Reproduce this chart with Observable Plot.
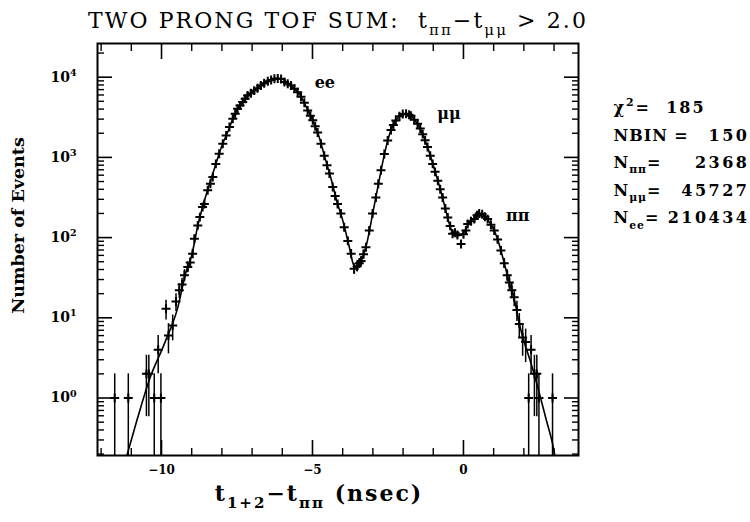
<!DOCTYPE html>
<html><head><meta charset="utf-8">
<script src="https://cdn.jsdelivr.net/npm/d3@7"></script>
<script src="https://cdn.jsdelivr.net/npm/@observablehq/plot@0.6"></script>
<style>body{margin:0;background:#fff}</style>
</head><body><div id="chart"></div>
<script>
// ---- data ----
const binX = [-11.55,-11.1,-10.5,-10.42,-10.24,-10.11,-10.02,-9.85,-9.77,-9.63,-9.52,-9.41,-9.32,-9.24,-9.13,-9.05,-8.97,-8.91,-8.80,-8.73,-8.64,-8.58,-8.47,-8.38,-8.30,-8.20,-8.09,-7.97,-7.86,-7.75,-7.64,-7.56,-7.48,-7.40,-7.31,-7.23,-7.15,-7.04,-6.93,-6.82,-6.71,-6.60,-6.48,-6.37,-6.26,-6.15,-6.04,-5.93,-5.82,-5.71,-5.60,-5.49,-5.38,-5.27,-5.16,-5.07,-4.99,-4.91,-4.83,-4.72,-4.61,-4.52,-4.44,-4.33,-4.25,-4.17,-4.06,-3.95,-3.83,-3.72,-3.62,-3.52,-3.45,-3.39,-3.31,-3.23,-3.12,-3.01,-2.90,-2.82,-2.73,-2.62,-2.51,-2.40,-2.32,-2.24,-2.12,-2.01,-1.90,-1.80,-1.74,-1.63,-1.52,-1.43,-1.35,-1.27,-1.19,-1.10,-1.02,-0.94,-0.85,-0.77,-0.69,-0.60,-0.52,-0.44,-0.36,-0.28,-0.20,-0.08,0.00,0.08,0.14,0.25,0.36,0.45,0.52,0.62,0.71,0.80,0.91,1.02,1.13,1.24,1.35,1.45,1.52,1.60,1.68,1.77,1.85,1.96,2.06,2.16,2.24,2.35,2.43,2.50,2.95];
const counts = [1,1,2,2,1,4,1,13,6,8,16,22,26,34,43,49,63,97,142,180,240,263,389,470,568,830,1110,1480,1880,2390,3030,3500,4050,4450,4890,5400,5900,6300,6800,7300,7900,8400,8900,9200,9550,9600,9500,8700,8300,7900,7200,6500,5700,4800,3850,3300,2900,2450,2040,1480,1050,800,630,427,330,263,200,135,91,63,41,44,48,51,62,76,123,200,316,468,692,1100,1620,2190,2540,2880,3250,3470,3500,3400,3310,2950,2630,2290,1950,1640,1350,1050,830,660,513,400,316,230,178,140,112,115,108,83,110,123,148,160,170,190,200,195,182,170,145,123,95,69,48,34,27.5,22,18,12.5,8.4,5.7,5,1,4,2,2,1,1];

const fitX = [-11.15,-10.8,-10.4,-9.9,-9.46,-9.2,-9.0,-8.8,-8.6,-8.4,-8.2,-8.0,-7.8,-7.6,-7.4,-7.2,-7.0,-6.8,-6.6,-6.4,-6.2,-6.0,-5.8,-5.6,-5.4,-5.2,-5.0,-4.8,-4.6,-4.4,-4.2,-4.0,-3.8,-3.65,-3.55,-3.4,-3.2,-3.0,-2.8,-2.6,-2.4,-2.2,-2.0,-1.8,-1.6,-1.4,-1.2,-1.0,-0.8,-0.6,-0.4,-0.2,0.0,0.2,0.4,0.55,0.7,0.9,1.1,1.3,1.5,1.7,1.85,2.0,2.24,2.5,2.75,2.95,3.02];
const fitY = [0.19,0.55,1.7,4.8,13.5,36,60,140,270,480,830,1400,2100,3300,4450,5500,6500,7500,8400,9200,9600,9500,8300,7200,5900,4200,2950,1900,1030,570,290,165,82,47,42,50,85,205,500,1170,2190,3000,3470,3400,2880,2150,1380,800,445,230,125,105,115,155,180,198,184,148,103,57,29,16,8.4,5.2,2.7,1.2,0.52,0.27,0.2];

const xMajor = [-10, -5, 0];
const xMinor = [-12,-11,-9,-8,-7,-6,-4,-3,-2,-1,1,2,3];
const yMajor = [1, 10, 100, 1000, 10000];
const yMinor = [0.2,0.3,0.4,0.5,0.6,0.7,0.8,0.9,2,3,4,5,6,7,8,9,20,30,40,50,60,70,80,90,200,300,400,500,600,700,800,900,2000,3000,4000,5000,6000,7000,8000,9000,20000];

const title = "TWO PRONG TOF SUM:  t_{ππ}−t_{μμ} > 2.0";
const xTitle = "t_{1+2}−t_{ππ} (nsec)";
const yTitle = "Number of Events";
const chiLine = "χ^{2}=  185";
const statLabels = ["NBIN =", "N_{ππ}=", "N_{μμ}=", "N_{ee}="];
const statValues = ["150", "2368", "45727", "210434"];
const peakText = ["ee", "μμ", "ππ"];
const peakX = [-4.59, -0.48, 1.80];
const peakY = [7400, 3050, 163];

// ---- tables ----
const pts = binX.map((x, i) => {
  const c = counts[i], e = Math.sqrt(c);
  return {x, y: c, lo: Math.max(c - e, 0.05), hi: c + e};
});
const fit = fitX.map((x, i) => ({x, y: fitY[i]}));
const peaks = peakText.map((t, i) => ({t, x: peakX[i], y: peakY[i]}));

const marks = [
  Plot.frame({strokeWidth: 2}),
  // inward ticks on all four sides
  Plot.axisX(xMajor, {anchor: "bottom", tickSize: -15, fill: "none", label: null, strokeWidth: 1.6}),
  Plot.axisX(xMinor, {anchor: "bottom", tickSize: -7, fill: "none", label: null, strokeWidth: 1.4}),
  Plot.axisX(xMajor, {anchor: "top", tickSize: -15, fill: "none", label: null, strokeWidth: 1.6}),
  Plot.axisX(xMinor, {anchor: "top", tickSize: -7, fill: "none", label: null, strokeWidth: 1.4}),
  Plot.axisY(yMajor, {anchor: "left", tickSize: -15, fill: "none", label: null, strokeWidth: 1.6}),
  Plot.axisY(yMinor, {anchor: "left", tickSize: -7, fill: "none", label: null, strokeWidth: 1.4}),
  Plot.axisY(yMajor, {anchor: "right", tickSize: -15, fill: "none", label: null, strokeWidth: 1.6}),
  Plot.axisY(yMinor, {anchor: "right", tickSize: -7, fill: "none", label: null, strokeWidth: 1.4}),
  // tick labels
  Plot.axisX(xMajor, {anchor: "bottom", tickSize: 0, tickPadding: 10, label: null, fontSize: 12, fontWeight: "bold"}),
  Plot.axisY(yMajor, {anchor: "left", tickSize: 0, tickPadding: 21, label: null, fontSize: 14, fontWeight: "bold",
    tickFormat: d => `10^{${Math.round(Math.log10(d))}}`}),
  // fit curve and data points with error bars
  Plot.line(fit, {x: "x", y: "y", curve: "monotone-x", strokeWidth: 1.6, clip: true}),
  Plot.ruleX(pts, {x: "x", y1: "lo", y2: "hi", strokeWidth: 1.5, clip: true}),
  Plot.dot(pts, {x: "x", y: "y", symbol: "plus", r: 3, strokeWidth: 2, stroke: "black", clip: true}),
  // peak labels
  Plot.text(peaks, {x: "x", y: "y", text: "t", lineAnchor: "bottom", fontSize: 16, fontWeight: "bold",
    fontStyle: d => d.t === "ee" ? "normal" : "italic"}),
  // titles
  Plot.text([title], {frameAnchor: "top", dy: -16, lineAnchor: "bottom", fontSize: 22, fontWeight: "normal"}),
  Plot.text([xTitle], {frameAnchor: "bottom", dx: -19, dy: 45, lineAnchor: "bottom", fontSize: 22, fontWeight: "bold"}),
  Plot.text([yTitle], {frameAnchor: "left", textAnchor: "middle", dx: -79, dy: -24, rotate: -90, fontSize: 17.5, fontWeight: "bold"}),
  // fit summary on the right
  Plot.text([chiLine], {frameAnchor: "top-right", textAnchor: "start", dx: 35, dy: 69.5,
    lineAnchor: "bottom", fontSize: 16, fontWeight: "bold"}),
  ...statLabels.map((s, i) => Plot.text([s], {frameAnchor: "top-right", textAnchor: "start", dx: 35, dy: 69.5 + (i + 1) * 27.6,
    lineAnchor: "bottom", fontSize: 16, fontWeight: "bold"})),
  ...statValues.map((s, i) => Plot.text([s], {frameAnchor: "top-right", textAnchor: "end", dx: 171, dy: 69.5 + (i + 1) * 27.6,
    lineAnchor: "bottom", fontSize: 16, fontWeight: "bold"}))
];

const chart = Plot.plot({
  width: 750, height: 522,
  marginLeft: 97, marginRight: 172, marginTop: 43, marginBottom: 67,
  style: {fontFamily: "DejaVu Serif", background: "white", color: "black"},
  x: {domain: [-12.12, 3.81]},
  y: {type: "log", domain: [0.192, 26300]},
  marks
});
document.getElementById("chart").append(chart);

// letter spacing for a few texts
const spacing = new Map([[title, "2.1px"], [xTitle, "2px"], [chiLine, "2px"],
  ...statLabels.map(s => [s, "1px"]), ...statValues.map(s => [s, "2.5px"])]);

// convert _{..} and ^{..} into real sub/superscript tspans
d3.select(chart).selectAll("text").each(function () {
  const s = this.textContent;
  this.style.whiteSpace = "pre";
  if (spacing.has(s)) this.style.letterSpacing = spacing.get(s);
  if (!/[_^]\{/.test(s)) return;
  const fs = parseFloat(getComputedStyle(this).fontSize) || 14;
  while (this.firstChild) this.removeChild(this.firstChild);
  const re = /([_^])\{([^}]*)\}/g;
  let last = 0, m, cur = 0;
  const add = (txt, off, small) => {
    if (!txt) return;
    const t = document.createElementNS("http://www.w3.org/2000/svg", "tspan");
    t.textContent = txt;
    if (small) t.setAttribute("font-size", (fs * 0.68).toFixed(1));
    const d = off - cur;
    if (d) t.setAttribute("dy", d.toFixed(1));
    cur = off;
    this.appendChild(t);
  };
  while ((m = re.exec(s))) {
    add(s.slice(last, m.index), 0, false);
    add(m[2], m[1] === "_" ? fs * 0.32 : -fs * 0.42, true);
    last = re.lastIndex;
  }
  add(s.slice(last), 0, false);
});
</script>
</body></html>
